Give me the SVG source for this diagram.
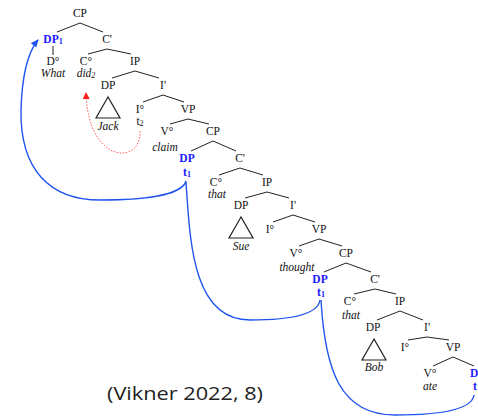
<svg xmlns="http://www.w3.org/2000/svg" width="478" height="417" viewBox="0 0 478 417">
<style>
.l{font-family:"Liberation Serif","Times New Roman",serif;font-size:11.5px;text-anchor:middle;fill:#111}
.i{font-style:italic}
.b{font-weight:bold;fill:#1a1aff}
.s{font-size:8px}
.e{stroke:#222;stroke-width:1;fill:none}
.tri{stroke:#222;stroke-width:1.2;fill:none}
.mv{stroke:#1f55ee;stroke-width:1.4;fill:none}
.hm{stroke:#ff5a5a;stroke-width:1;stroke-dasharray:1.5 1.5;fill:none}
.cite{font-family:"Open Sans","Liberation Sans",sans-serif;font-size:19px;fill:#222}
</style>
<defs>
<marker id="ab" markerWidth="8" markerHeight="8" refX="7" refY="4" orient="auto" markerUnits="userSpaceOnUse"><path d="M0,0.5 L8,4 L0,7.5z" fill="#1f55ee"/></marker>
<marker id="ar" markerWidth="7" markerHeight="7" refX="6" refY="3.5" orient="auto" markerUnits="userSpaceOnUse"><path d="M0,0 L7,3.5 L0,7z" fill="#ff2020"/></marker>
</defs>
<g id="connectors">
<path class="e" d="M57,32 L80,23 L103,32"/>
<path class="e" d="M53,46 L53,55"/>
<path class="e" d="M88,54 L107,49 L131,54"/>
<path class="e" d="M112,78 L135,71 L159,78"/>
<path class="e" d="M143,102 L163,95 L184,102"/>
<path class="e" d="M170,124 L188,119 L209,124"/>
<path class="e" d="M191,151 L213,141 L236,151"/>
<path class="e" d="M219,175 L240,168 L263,175"/>
<path class="e" d="M245,198 L267,192 L289,198"/>
<path class="e" d="M273,222 L293,215 L315,222"/>
<path class="e" d="M299,246 L319,239 L342,246"/>
<path class="e" d="M324,272 L346,263 L371,272"/>
<path class="e" d="M354,294 L375,289 L396,294"/>
<path class="e" d="M377,320 L400,311 L423,320"/>
<path class="e" d="M408,340 L427,337 L449,340"/>
<path class="e" d="M433,366 L453,357 L474,366"/>
<path class="hm" d="M140,131 C142,165 88,165 86,93" marker-end="url(#ar)"/>
<path class="mv" d="M186,181 C182,196 140,200 100,200 C50,200 20,170 21,110 C22,75 28,52 38,40" marker-end="url(#ab)"/>
<path class="mv" d="M186,182 C190,240 192,320 250,320 C290,320 318,315 320,300"/>
<path class="mv" d="M321,300 C325,370 340,415 395,415 C440,415 472,410 474,395"/>
</g>
<g id="n-cp0"><text class="l" x="80" y="17">CP</text></g>
<g id="n-dp1"><text class="l b" x="53" y="43">DP<tspan class="s" dy="1">1</tspan></text></g>
<g id="n-cbar1"><text class="l" x="107" y="43">C'</text></g>
<g id="n-d0"><text class="l" x="53" y="65">D°</text><text class="l i" x="53" y="77">What</text></g>
<g id="n-c0a"><text class="l" x="86" y="65">C°</text><text class="l i" x="86" y="77">did<tspan class="s" dy="1">2</tspan></text></g>
<g id="n-ip1"><text class="l" x="135" y="65">IP</text></g>
<g id="n-dp-jack"><text class="l" x="108" y="89">DP</text><path class="tri" d="M108,97 L96,118 L120,118 Z"/><text class="l i" x="108" y="130">Jack</text></g>
<g id="n-ibar1"><text class="l" x="163" y="89">I'</text></g>
<g id="n-i0a"><text class="l" x="140" y="113">I°</text><text class="l" x="140" y="125">t<tspan class="s" dy="1">2</tspan></text></g>
<g id="n-vp1"><text class="l" x="188" y="113">VP</text></g>
<g id="n-v0a"><text class="l" x="167" y="135">V°</text><text class="l i" x="165" y="151">claim</text></g>
<g id="n-cp1"><text class="l" x="213" y="135">CP</text></g>
<g id="n-dp-t1a"><text class="l b" x="187" y="162">DP</text><text class="l b" x="187" y="176">t<tspan class="s" dy="1">1</tspan></text></g>
<g id="n-cbar2"><text class="l" x="240" y="162">C'</text></g>
<g id="n-c0b"><text class="l" x="216" y="186">C°</text><text class="l i" x="217" y="198">that</text></g>
<g id="n-ip2"><text class="l" x="267" y="186">IP</text></g>
<g id="n-dp-sue"><text class="l" x="241" y="209">DP</text><path class="tri" d="M241,217 L229,238 L253,238 Z"/><text class="l i" x="241" y="250">Sue</text></g>
<g id="n-ibar2"><text class="l" x="293" y="209">I'</text></g>
<g id="n-i0b"><text class="l" x="270" y="233">I°</text></g>
<g id="n-vp2"><text class="l" x="319" y="233">VP</text></g>
<g id="n-v0b"><text class="l" x="296" y="257">V°</text><text class="l i" x="297" y="271">thought</text></g>
<g id="n-cp2"><text class="l" x="346" y="257">CP</text></g>
<g id="n-dp-t1b"><text class="l b" x="320" y="283">DP</text><text class="l b" x="321" y="296">t<tspan class="s" dy="1">1</tspan></text></g>
<g id="n-cbar3"><text class="l" x="375" y="283">C'</text></g>
<g id="n-c0c"><text class="l" x="350" y="305">C°</text><text class="l i" x="351" y="319">that</text></g>
<g id="n-ip3"><text class="l" x="400" y="305">IP</text></g>
<g id="n-dp-bob"><text class="l" x="373" y="331">DP</text><path class="tri" d="M374,339 L362,360 L386,360 Z"/><text class="l i" x="374" y="371">Bob</text></g>
<g id="n-ibar3"><text class="l" x="427" y="331">I'</text></g>
<g id="n-i0c"><text class="l" x="405" y="351">I°</text></g>
<g id="n-vp3"><text class="l" x="453" y="351">VP</text></g>
<g id="n-v0c"><text class="l" x="430" y="377">V°</text><text class="l i" x="430" y="390">ate</text></g>
<g id="n-dp-t1c"><text class="l b" x="470" y="377" style="text-anchor:start">DP</text><text class="l b" x="473" y="390" style="text-anchor:start">t<tspan class="s" dy="1">1</tspan></text></g>
<g id="citation"><text class="cite" x="107" y="400" textLength="156" lengthAdjust="spacingAndGlyphs">(Vikner 2022, 8)</text></g>
</svg>
